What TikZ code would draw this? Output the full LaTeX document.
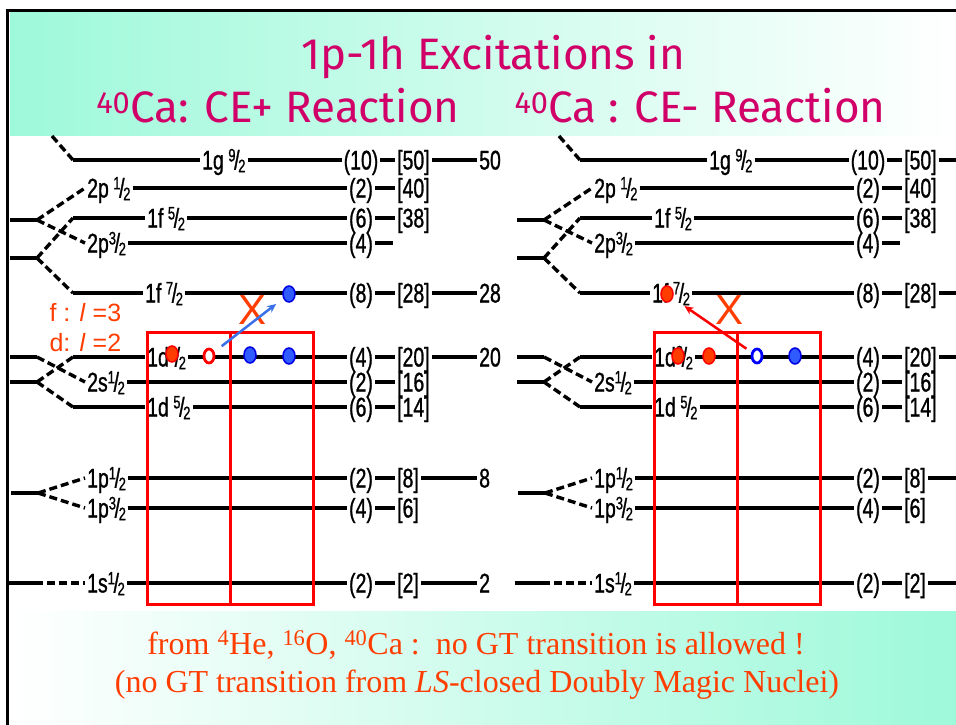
\documentclass[tikz,border=0pt]{standalone}
\usepackage{fontspec}
\setmainfont{Liberation Serif}
\newfontfamily\condfont[FakeStretch=0.72,FakeBold=1]{Liberation Sans}
\newfontfamily\titlefont{Fira Sans}
\newfontfamily\arialfont{Liberation Sans}
\usepackage{tikz}
\usetikzlibrary{arrows.meta,shapes.geometric}
\definecolor{aqua}{HTML}{9EF9DA}
\definecolor{berry}{HTML}{D10068}
\definecolor{ember}{HTML}{FF3D00}
\definecolor{boxred}{HTML}{FF0000}
\definecolor{dotblue}{HTML}{2F5BFF}
\definecolor{arrblue}{HTML}{3A70E8}
% j = l +- 1/2 written as a slanted fraction
\newcommand\jfr[2]{{\fontsize{18}{18}\selectfont\raisebox{.45em}{#1}}\kern-.05em/\kern-.05em{\fontsize{18}{18}\selectfont\raisebox{-.15em}{#2}}}
% one level scheme; #1=1 prints the magic numbers
\newcommand\shells[1]{%
  \foreach \nm/\y/\lbl/\x/\occ in {g9/160/{1g\,\jfr92}/200/10, p1h/188/{2p\,\jfr12}/85/2,
      f5/218/{1f\,\jfr52}/145/6, p3h/243/{2p\jfr32}/85/4, f7/293/{1f\,\jfr72}/143/8,
      d3/357/{1d\jfr32}/145/4, s1h/382/{2s\jfr12}/85/2, d5/407/{1d\,\jfr52}/145/6,
      p1/478/{1p\jfr12}/85/2, p3/508/{1p\jfr32}/85/4, s1/583/{1s\jfr12}/85/2}{
    \node[lab,anchor=west] (\nm) at (\x,\y) {\lbl};
    \node[lab] (\nm-o) at (361,\y) {(\occ)};
    \draw[lvl] (\nm.east) -- (\nm-o.west);
  }
  \foreach \nm/\y in {g9/160,f5/218,f7/293,d3/357,d5/407}{
    \coordinate (\nm-s) at (73,\y);
    \draw[lvl] (\nm-s) -- (\nm.west);
  }
  \foreach \nm/\y/\cc in {g9/160/50, p1h/188/40, f5/218/38, f7/293/28, d3/357/20,
      s1h/382/16, d5/407/14, p1/478/8, p3/508/6, s1/583/2}{
    \node[lab,anchor=west] (\nm-c) at (395,\y) {[\cc]};
    \draw[lvl] (\nm-o.east) -- (\nm-c.west);
  }
  \coordinate (p3h-e) at (393,243);
  \draw[lvl] (p3h-o.east) -- (p3h-e);
  \foreach \nm/\y/\mg in {g9/160/50, f7/293/28, d3/357/20, p1/478/8, s1/583/2}{
    \ifnum#1=1
      \node[lab,anchor=west] (\nm-m) at (477,\y) {\mg};
      \draw[lvl] (\nm-c.east) -- (\nm-m.west);
    \else
      \coordinate (\nm-m) at (477,\y);
      \draw[lvl] (\nm-c.east) -- (\nm-m);
    \fi
  }
  % oscillator shells splitting
  \coordinate (gA) at (52,136);
  \coordinate (fpA) at (37,220);
  \coordinate (fpB) at (37,258);
  \coordinate (sdA) at (37,357);
  \coordinate (sdB) at (37,382);
  \coordinate (pA) at (38,493);
  \coordinate (sA) at (35,583);
  \foreach \c in {fpA,fpB,sdA,sdB,pA,sA} \draw[lvl] (\c) -- +(-27,0);
  \foreach \a/\b in {gA/g9-s, fpA/p1h.west, fpA/p3h.west, fpB/f5-s, fpB/f7-s, sdA/s1h.west,
      sdB/d3-s, sdB/d5-s, pA/p1.west, pA/p3.west, sA/s1.west}
    \draw[dsh] (\a) -- (\b);
  \node[rbox] (box1) at (188.5,468) {};
  \node[rbox] (box2) at (271.5,468) {};
}
\begin{document}
\begin{tikzpicture}[x=1pt,y=-1pt,
  lvl/.style={line width=3.4pt},
  dsh/.style={line width=3.4pt,dash pattern=on 8pt off 4pt},
  lab/.style={font=\condfont\fontsize{27}{27}\selectfont,text height=19pt,text depth=0pt,inner sep=2pt},
  rbox/.style={draw=boxred,line width=3pt,minimum width=83pt,minimum height=272pt,inner sep=0pt},
  dot/.style={ellipse,minimum width=12pt,minimum height=16pt,inner sep=0pt,line width=1.5pt},
  rdot/.style={dot,draw=boxred,fill=ember},
  bdot/.style={dot,draw=blue!90!black,fill=dotblue},
  rhole/.style={dot,draw=boxred,fill=white,line width=2.8pt,minimum width=10pt,minimum height=14pt},
  bhole/.style={dot,draw=blue,fill=white,line width=2.8pt,minimum width=10pt,minimum height=14pt},
  cross/.style={font=\arialfont\fontsize{42}{42}\selectfont,text=ember,inner sep=0pt},
  arr/.style={-{Stealth[length=9pt,width=8pt]},line width=2.5pt}]
\useasboundingbox (0,0) rectangle (956,725);
\clip (0,0) rectangle (956,725);
\shade[left color=aqua,right color=white] (10,13) rectangle (956,135);
\shade[left color=white,right color=aqua] (10,611) rectangle (956,725);
\draw[line width=3pt] (7,725) -- (7,11) -- (956,11);
\node[font=\titlefont\fontsize{44}{44}\selectfont,text=berry] (title) at (493,57) {1p-1h Excitations in};
\node[font=\titlefont\fontsize{44}{44}\selectfont,text=berry] (ceplus) at (278,106) {\textsuperscript{40}Ca: CE+ Reaction};
\node[font=\titlefont\fontsize{44}{44}\selectfont,text=berry] (ceminus) at (700,106) {\textsuperscript{40}Ca : CE- Reaction};
\begin{scope}[name prefix=L-]
  \shells{1}
  \node[rdot] (pr1) at (172,354) {};
  \node[rhole] (ph) at (209,356) {};
  \node[bdot] (nb1) at (250,355) {};
  \node[bdot] (nb2) at (289,356) {};
  \node[bdot] (np) at (289,294) {};
  \node[cross] (veto) at (253,310) {X};
  \draw[arr,arrblue,shorten <=9pt,shorten >=9pt] (ph) -- (np);
  \node[font=\arialfont\fontsize{25}{25}\selectfont,text=ember,anchor=west] (fl) at (46,313) {f : \textit{l} =3};
  \node[font=\arialfont\fontsize{25}{25}\selectfont,text=ember,anchor=west] (dl) at (46,343) {d: \textit{l} =2};
\end{scope}
\begin{scope}[name prefix=R-,xshift=507pt]
  \shells{0}
  \node[rdot] (pp) at (160,294) {};
  \node[rdot] (pr1) at (171,356) {};
  \node[rdot] (pr2) at (202,356) {};
  \node[bhole] (nh) at (250,356) {};
  \node[bdot] (nb1) at (288,356) {};
  \node[cross] (veto) at (222,310) {X};
  \draw[arr,boxred,shorten <=6pt,shorten >=14pt] (nh) -- (pp);
\end{scope}
\node[font=\fontsize{32}{32}\selectfont,text=ember] (note1) at (476,645) {from \textsuperscript{4}He, \textsuperscript{16}O, \textsuperscript{40}Ca :\ \ no GT transition is allowed !};
\node[font=\fontsize{32}{32}\selectfont,text=ember] (note2) at (477,685) {(no GT transition from \textit{LS}-closed Doubly Magic Nuclei)};
\end{tikzpicture}
\end{document}
